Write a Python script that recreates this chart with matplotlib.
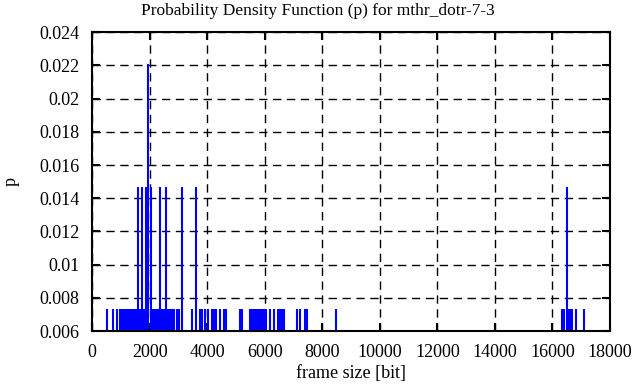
import matplotlib.pyplot as plt

plt.rcParams['font.family'] = ['Liberation Serif', 'DejaVu Serif']

# frame sizes [bit] and their probabilities
low_sizes = [521, 730, 869, 973, 1043, 1112, 1182, 1251, 1321, 1390, 1460, 1529,
             1668, 1807, 2120, 2189, 2259, 2294, 2433, 2502, 2641, 2711, 2780,
             2850, 2954, 3023, 3475, 3753, 3823, 3927, 4031, 4170, 4240, 4309,
             4448, 4587, 4657, 5143, 5213, 5491, 5560, 5630, 5699, 5769, 5838,
             5908, 5977, 6047, 6186, 6325, 6464, 6534, 6603, 6672, 7124, 7228,
             7402, 7471, 8479, 16333, 16402, 16541, 16611, 16680, 16819, 17097]
mid_sizes = [1599, 1738, 1877, 2050, 2363, 2572, 3128, 3614, 16506]
high_sizes = [1946]

p_low = 0.00735
p_mid = 0.0147
p_high = 0.0221

fig = plt.figure(figsize=(6.36, 3.87), dpi=100)
ax = fig.add_axes([0.1447, 0.1447, 0.8145, 0.772])

base = 0.006
ax.vlines(low_sizes, base, p_low, color='blue', linewidth=1.5)
ax.vlines(mid_sizes, base, p_mid, color='blue', linewidth=1.5)
ax.vlines(high_sizes, base, p_high, color='blue', linewidth=1.5)

ax.set_xlim(0, 18000)
ax.set_ylim(0.006, 0.024)
ax.set_xticks(range(0, 18001, 2000))
yt = [0.006 + 0.002 * i for i in range(10)]
ax.set_yticks(yt)
ax.set_yticklabels(['%g' % round(v, 3) for v in yt])

ax.grid(True, color='black', linestyle=(0, (6, 4)), linewidth=1)
ax.tick_params(direction='in', length=6, width=1.5, top=True, right=True,
               labelsize=13, colors='black', pad=9)
for s in ax.spines.values():
    s.set_linewidth(1.5)

# gnuplot centres the title on the whole canvas
fig.text(0.5, 1 - 11 / 387, 'Probability Density Function (p) for mthr_dotr-7-3',
         fontsize=12.5, ha='center', va='center')
ax.set_xlabel('frame size [bit]', fontsize=13, labelpad=3)
ax.set_ylabel('p', fontsize=13, labelpad=14)

fig.savefig('out.png', dpi=100)
